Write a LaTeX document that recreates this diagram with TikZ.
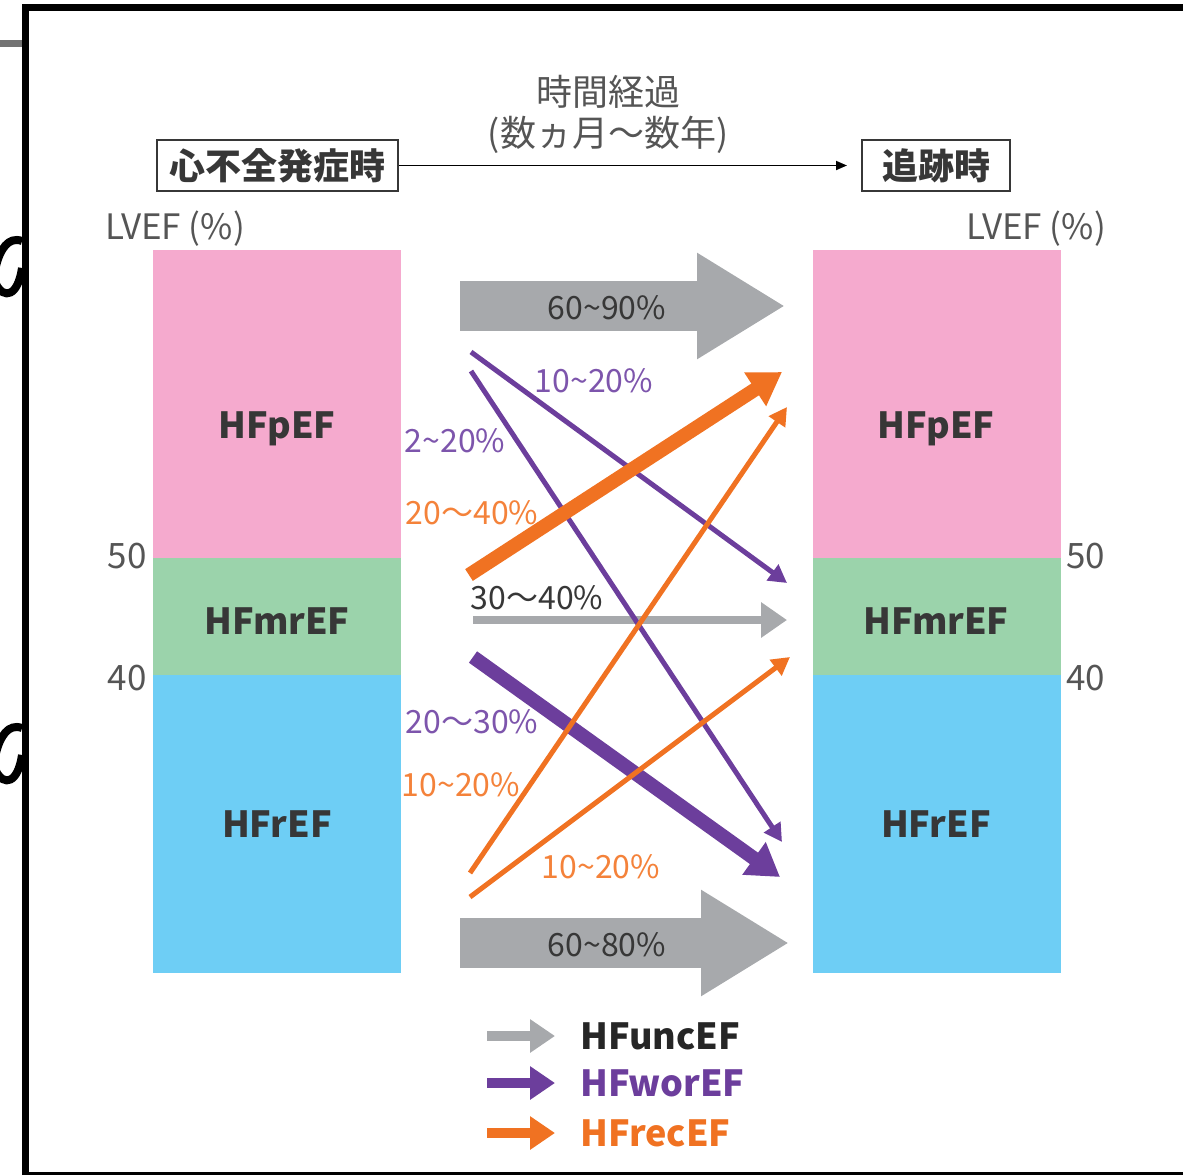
\documentclass[tikz,border=0pt]{standalone}
\usepackage{fontspec}
\setmainfont{Noto Sans CJK JP}
\usetikzlibrary{arrows.meta, positioning}

\definecolor{pefpink}{RGB}{245, 170, 206}
\definecolor{mrefgreen}{RGB}{155, 211, 171}
\definecolor{refblue}{RGB}{110, 206, 245}
\definecolor{uncgray}{RGB}{167, 169, 172}
\definecolor{worpurple}{RGB}{108, 62, 156}
\definecolor{recorange}{RGB}{240, 114, 34}
\definecolor{labpurple}{RGB}{125, 85, 172}
\definecolor{laborange}{RGB}{244, 130, 58}
\definecolor{darktext}{RGB}{55, 55, 55}
\definecolor{axistext}{RGB}{85, 85, 85}

\tikzset{
  efbar/.style={inner sep=0pt, outer sep=0pt, minimum width=248pt},
  eftext/.style={font=\fontsize{36}{40}\selectfont\bfseries, text=darktext},
  axtext/.style={font=\fontsize{35}{40}\selectfont, text=axistext, inner sep=0pt},
  pct/.style={font=\fontsize{32}{36}\selectfont, inner sep=0pt},
  stagebox/.style={draw=darktext, line width=2pt, inner sep=0pt, minimum height=51pt,
    font=\fontsize{36}{40}\selectfont\bfseries, text=darktext},
  thinarr/.style={line width=5pt, -{Triangle[length=18pt, width=19pt]}},
  thickarr/.style={line width=14pt, -{Triangle[length=32pt, width=38pt]}},
  bigarr/.style={uncgray, line width=50pt, -{Triangle[length=88pt, width=100pt]}},
  keyarr/.style={line width=10pt, -{Triangle[length=25pt, width=32pt]}},
  keytext/.style={font=\fontsize{36}{40}\selectfont\bfseries, anchor=west, inner sep=0pt},
}

\begin{document}
\begin{tikzpicture}[x=1pt, y=-1pt]
  \useasboundingbox (0,0) rectangle (1183,1175);

  % Frame and scan leftovers
  \draw[line width=7pt] (25.5,1175) -- (25.5,7.5) -- (1183,7.5);
  \draw[line width=3pt] (25.5,1173.5) -- (1183,1173.5);
  \fill[black!55] (0,40) rectangle (22,47);
  \draw[line width=8pt] (22,241) .. controls (8,236) and (0,250) .. (-4,266);
  \draw[line width=8pt] (-4,284) .. controls (4,300) and (18,296) .. (22,268);
  \draw[line width=8pt] (22,728) .. controls (8,723) and (0,737) .. (-4,753);
  \draw[line width=8pt] (-4,771) .. controls (4,787) and (18,783) .. (22,755);

  % Time line
  \node[stagebox, minimum width=241pt] (onset) at (277.5,165.5) {心不全発症時};
  \node[stagebox, minimum width=148pt] (follow) at (936,165.5) {追跡時};
  \draw[line width=1.8pt, -{Triangle[length=11pt, width=9pt]}, shorten >=14pt] (onset) -- (follow);
  \node[font=\fontsize{36}{40}\selectfont, text=axistext] (elapsed) at (608,92) {時間経過};
  \node[font=\fontsize{36}{40}\selectfont, text=axistext] (span) at (608,135) {(数ヵ月〜数年)};

  % LEFT: at onset
  \node[efbar, fill=pefpink, minimum height=308pt] (lpef) at (277,404) {};
  \node[efbar, fill=mrefgreen, minimum height=117pt] (lmref) at (277,616.5) {};
  \node[efbar, fill=refblue, minimum height=298pt] (lref) at (277,824) {};
  \node[eftext] (lpeft) at (277,429) {HFpEF};
  \node[eftext] (lmreft) at (277,621) {HFmrEF};
  \node[eftext] (lreft) at (277,824) {HFrEF};
  \node[axtext] (lvefl) at (175,229) {LVEF (\%)};
  \node[axtext, left=6pt of lpef.south west, yshift=2pt] (l50) {50};
  \node[axtext, left=6pt of lmref.south west, yshift=-3pt] (l40) {40};

  % RIGHT: at follow-up
  \node[efbar, fill=pefpink, minimum height=308pt] (rpef) at (937,404) {};
  \node[efbar, fill=mrefgreen, minimum height=117pt] (rmref) at (937,616.5) {};
  \node[efbar, fill=refblue, minimum height=298pt] (rref) at (937,824) {};
  \node[eftext] (rpeft) at (936,429) {HFpEF};
  \node[eftext] (rmreft) at (936,621) {HFmrEF};
  \node[eftext] (rreft) at (936,824) {HFrEF};
  \node[axtext] (lvefr) at (1036,229) {LVEF (\%)};
  \node[axtext, right=5pt of rpef.south east, yshift=2pt] (r50) {50};
  \node[axtext, right=5pt of rmref.south east, yshift=-3pt] (r40) {40};

  % Unchanged
  \coordinate (u1s) at (460,306);  \coordinate (u1e) at (785,306);
  \coordinate (u2s) at (473,620);  \coordinate (u2e) at (787,620);
  \coordinate (u3s) at (460,943);  \coordinate (u3e) at (789,943);
  \draw[bigarr] (u1s) -- (u1e);
  \draw[uncgray, line width=8pt, -{Triangle[length=26pt, width=34pt]}] (u2s) -- (u2e);
  \draw[bigarr] (u3s) -- (u3e);
  \node[pct, text=darktext] (u1t) at (607,308) {60\textasciitilde 90\%};
  \node[pct, text=darktext] (u2t) at (537,598) {30〜40\%};
  \node[pct, text=darktext] (u3t) at (607,945) {60\textasciitilde 80\%};

  % Worsened
  \coordinate (w1s) at (471,352);  \coordinate (w1e) at (787,583);
  \coordinate (w2s) at (471,371);  \coordinate (w2e) at (782,842);
  \coordinate (w3s) at (473,657);  \coordinate (w3e) at (780,877);
  \draw[thinarr, worpurple] (w1s) -- (w1e);
  \draw[thinarr, worpurple] (w2s) -- (w2e);
  \draw[thickarr, worpurple] (w3s) -- (w3e);
  \node[pct, text=labpurple] (w1t) at (594,381) {10\textasciitilde 20\%};
  \node[pct, text=labpurple] (w2t) at (455,441) {2\textasciitilde 20\%};
  \node[pct, text=labpurple] (w3t) at (472,722) {20〜30\%};

  % Recovered
  \coordinate (r1s) at (469,575);  \coordinate (r1e) at (782,372);
  \coordinate (r2s) at (470,873);  \coordinate (r2e) at (787,407);
  \coordinate (r3s) at (470,897);  \coordinate (r3e) at (790,657);
  \draw[thickarr, recorange] (r1s) -- (r1e);
  \draw[thinarr, recorange] (r2s) -- (r2e);
  \draw[thinarr, recorange] (r3s) -- (r3e);
  \node[pct, text=laborange] (r1t) at (472,513) {20〜40\%};
  \node[pct, text=laborange] (r2t) at (461,785) {10\textasciitilde 20\%};
  \node[pct, text=laborange] (r3t) at (601,867) {10\textasciitilde 20\%};

  % Legend
  \coordinate (k1s) at (487,1036);  \coordinate (k1e) at (555,1036);
  \coordinate (k2s) at (487,1083);  \coordinate (k2e) at (555,1083);
  \coordinate (k3s) at (487,1133);  \coordinate (k3e) at (555,1133);
  \draw[keyarr, uncgray] (k1s) -- (k1e);
  \draw[keyarr, worpurple] (k2s) -- (k2e);
  \draw[keyarr, recorange] (k3s) -- (k3e);
  \node[keytext, text=black!85] (k1t) at (580,1036) {HFuncEF};
  \node[keytext, text=worpurple] (k2t) at (580,1083) {HFworEF};
  \node[keytext, text=recorange] (k3t) at (580,1133) {HFrecEF};
\end{tikzpicture}
\end{document}
